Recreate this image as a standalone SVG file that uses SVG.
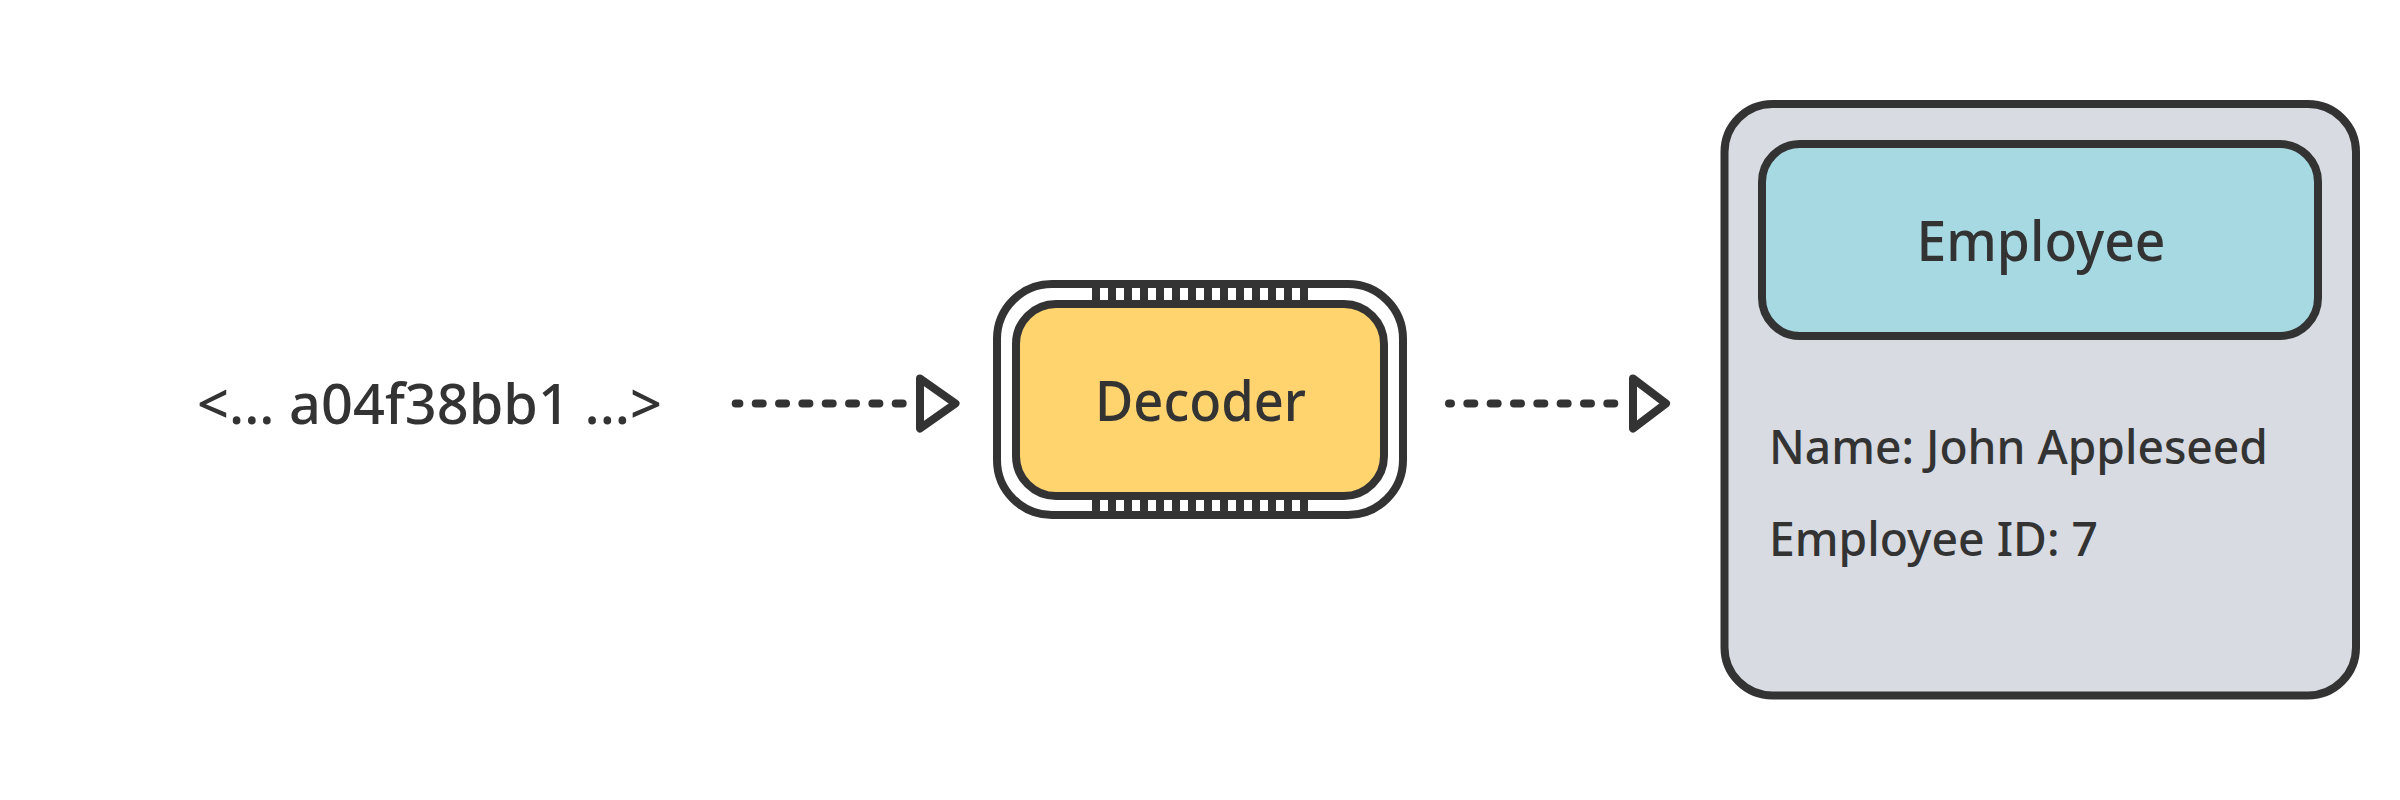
<svg xmlns="http://www.w3.org/2000/svg" width="2400" height="800" viewBox="0 0 2400 800">
  <style>
    .stk { stroke: #333333; stroke-width: 8; stroke-linejoin: round; }
    .txt { font-family: "Noto Sans", "Liberation Sans", sans-serif; fill: #333333; font-weight: 500; }
    .big { font-size: 56px; }
    .mid { font-size: 47px; }
    .dash { fill: none; stroke: #333333; stroke-width: 8; stroke-linecap: round; stroke-dasharray: 7 16.33; }
    .head { fill: none; stroke: #333333; stroke-width: 8; stroke-linejoin: round; }
  </style>
  <rect width="2400" height="800" fill="#ffffff"/>

  <g id="input">
    <text class="txt big" x="197" y="424" textLength="465" lengthAdjust="spacingAndGlyphs">&lt;... a04f38bb1 ...&gt;</text>
  </g>

  <g id="decoder">
    <rect class="stk" x="997" y="284" width="406" height="231" rx="55" ry="55" fill="#ffffff"/>
    <line x1="1092" y1="294" x2="1308" y2="294" stroke="#333333" stroke-width="12" stroke-dasharray="8 8"/>
    <line x1="1092" y1="505.5" x2="1308" y2="505.5" stroke="#333333" stroke-width="11" stroke-dasharray="8 8"/>
    <rect class="stk" x="1016" y="304" width="368" height="192" rx="40" ry="40" fill="#ffd46f"/>
    <text class="txt big" x="1200.5" y="421" text-anchor="middle" textLength="211" lengthAdjust="spacingAndGlyphs">Decoder</text>
  </g>

  <g id="employee">
    <rect class="stk" x="1724.5" y="104" width="631.5" height="591.5" rx="48" ry="48" fill="#d8dbe2"/>
    <rect class="stk" x="1762" y="144" width="556" height="192" rx="38" ry="38" fill="#a6d9e2"/>
    <text class="txt big" x="2041" y="261" text-anchor="middle" textLength="249" lengthAdjust="spacingAndGlyphs">Employee</text>
    <text class="txt mid" x="1769" y="464" textLength="499" lengthAdjust="spacingAndGlyphs">Name: John Appleseed</text>
    <text class="txt mid" x="1769" y="556" textLength="329" lengthAdjust="spacingAndGlyphs">Employee ID: 7</text>
  </g>

  <g id="connectors">
    <path class="dash" d="M902.7 403.5 L735.7 403.5"/>
    <path class="head" d="M920 378.5 L955.5 403.5 L920 428.5 Z"/>
    <path class="dash" d="M1614.3 403.5 L1449 403.5"/>
    <path class="head" d="M1633 378.5 L1666 403.5 L1633 428.5 Z"/>
  </g>
</svg>
